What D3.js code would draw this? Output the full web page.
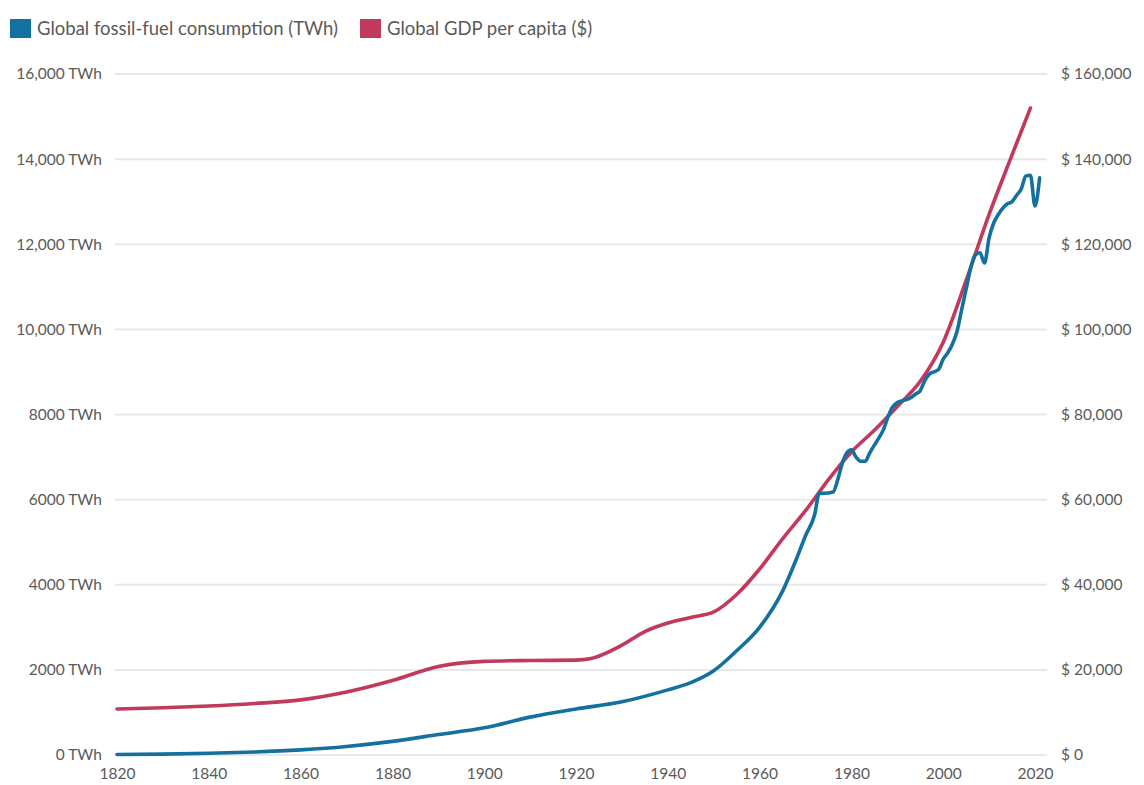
<!DOCTYPE html>
<html>
<head>
<meta charset="utf-8">
<script src="https://cdn.jsdelivr.net/npm/d3@7"></script>
<style>
  body { margin: 0; background: #fff; }
  text { font-family: Lato, "Open Sans", sans-serif; fill: #5a5a5a; }
  .grid line { stroke: #e8e8e8; stroke-width: 2; }
  .line { fill: none; stroke-width: 3.6; stroke-linejoin: round; stroke-linecap: round; }
</style>
</head>
<body>
<svg id="chart"></svg>
<script>
// fossil fuel consumption (TWh)
const fuelYears = [1820, 1830, 1840, 1850, 1860, 1870, 1880, 1890, 1900, 1910, 1920, 1930, 1940, 1945,
  1950, 1955, 1960, 1965, 1968, 1970, 1972, 1973, 1974, 1976, 1977, 1978, 1979, 1980, 1981, 1982,
  1983, 1984, 1985, 1986, 1987, 1988, 1989, 1990, 1991, 1992, 1993, 1994, 1995, 1996, 1997, 1998,
  1999, 2000, 2001, 2002, 2003, 2004, 2005, 2006, 2007, 2008, 2009, 2010, 2011, 2012, 2013, 2014,
  2015, 2016, 2017, 2018, 2019, 2020, 2021];
const fuelValues = [10, 20, 40, 70, 120, 200, 320, 480, 640, 890, 1080, 1250, 1530, 1700,
  1980, 2450, 3000, 3850, 4600, 5150, 5650, 6150, 6150, 6180, 6460, 6850, 7100, 7170, 7000, 6900,
  6900, 7100, 7280, 7450, 7650, 7950, 8180, 8280, 8320, 8350, 8400, 8480, 8560, 8800, 8950, 9000,
  9060, 9300, 9450, 9650, 9950, 10450, 10950, 11450, 11750, 11800, 11560, 12150, 12500, 12700, 12850, 12950,
  13000, 13150, 13300, 13600, 13620, 12900, 13560];

// GDP per capita ($)
const gdpYears = [1820, 1830, 1840, 1850, 1860, 1870, 1880, 1890, 1900, 1910, 1920, 1923, 1930, 1935,
  1940, 1945, 1950, 1955, 1960, 1965, 1970, 1975, 1980, 1985, 1990, 1995, 2000, 2005, 2010, 2015, 2019];
const gdpValues = [10800, 11100, 11500, 12100, 12950, 14800, 17500, 20800, 22000, 22200, 22300, 22600, 25800, 29000,
  31000, 32300, 33600, 37700, 43700, 50800, 57400, 64700, 71200, 76300, 81900, 87800, 97000, 111500, 127000, 141000, 152000];

const xTicks = [1820, 1840, 1860, 1880, 1900, 1920, 1940, 1960, 1980, 2000, 2020];
const leftTicks = [0, 2000, 4000, 6000, 8000, 10000, 12000, 14000, 16000];
const leftLabels = ['0 TWh', '2000 TWh', '4000 TWh', '6000 TWh', '8000 TWh', '10,000 TWh', '12,000 TWh', '14,000 TWh', '16,000 TWh'];
const rightTicks = [0, 20000, 40000, 60000, 80000, 100000, 120000, 140000, 160000];
const rightLabels = ['$ 0', '$ 20,000', '$ 40,000', '$ 60,000', '$ 80,000', '$ 100,000', '$ 120,000', '$ 140,000', '$ 160,000'];

const seriesNames = ['Global fossil-fuel consumption (TWh)', 'Global GDP per capita ($)'];
const seriesColors = ['#14709f', '#c13a5c'];

class dualLineChart {
  constructor(_config) {
    this.config = {
      parentElement: _config.parentElement,
      containerWidth: _config.containerWidth || 1144,
      containerHeight: _config.containerHeight || 785
    };
    this.initVis();
  }

  initVis() {
    let vis = this;

    vis.svg = d3.select(vis.config.parentElement)
      .attr('width', vis.config.containerWidth)
      .attr('height', vis.config.containerHeight);

    vis.xScale = d3.scaleLinear().domain([1820, 2020]).range([117, 1035]);
    vis.yLeft = d3.scaleLinear().domain([0, 16000]).range([755, 74]);
    vis.yRight = d3.scaleLinear().domain([0, 160000]).range([755, 74]);

    // gridlines
    vis.svg.append('g')
      .attr('class', 'grid')
      .selectAll('line')
      .data(leftTicks)
      .join('line')
      .attr('x1', 115)
      .attr('x2', 1047)
      .attr('y1', d => vis.yLeft(d))
      .attr('y2', d => vis.yLeft(d));

    // left axis
    vis.svg.append('g')
      .attr('transform', 'translate(102,0)')
      .call(d3.axisLeft(vis.yLeft).tickValues(leftTicks).tickSize(0).tickPadding(0)
        .tickFormat((d, i) => leftLabels[i]))
      .call(g => g.select('.domain').remove())
      .selectAll('text')
      .attr('font-size', '15.5px')
      .attr('fill', '#5a5a5a');

    // right axis
    vis.svg.append('g')
      .attr('transform', 'translate(1061,0)')
      .call(d3.axisRight(vis.yRight).tickValues(rightTicks).tickSize(0).tickPadding(0)
        .tickFormat((d, i) => rightLabels[i]))
      .call(g => g.select('.domain').remove())
      .selectAll('text')
      .attr('font-size', '15.5px')
      .attr('fill', '#5a5a5a');

    // bottom axis
    vis.svg.append('g')
      .attr('transform', 'translate(0,768)')
      .call(d3.axisBottom(vis.xScale).tickValues(xTicks).tickSize(0).tickPadding(0)
        .tickFormat(d3.format('d')))
      .call(g => g.select('.domain').remove())
      .selectAll('text')
      .attr('font-size', '15.5px')
      .attr('fill', '#5a5a5a');

    // legend
    let legend = vis.svg.append('g').attr('class', 'legend');
    let legendX = [10, 360];
    seriesNames.forEach((name, i) => {
      legend.append('rect')
        .attr('x', legendX[i])
        .attr('y', 19)
        .attr('width', 21)
        .attr('height', 19)
        .attr('fill', seriesColors[i]);
      legend.append('text')
        .attr('x', legendX[i] + 27)
        .attr('y', 35)
        .attr('font-size', '18.5px')
        .text(name);
    });
  }

  updateVis() {
    let vis = this;

    let fuelLine = d3.line()
      .x((d, i) => vis.xScale(fuelYears[i]))
      .y(d => vis.yLeft(d))
      .curve(d3.curveMonotoneX);

    let gdpLine = d3.line()
      .x((d, i) => vis.xScale(gdpYears[i]))
      .y(d => vis.yRight(d))
      .curve(d3.curveMonotoneX);

    vis.svg.append('path')
      .datum(gdpValues)
      .attr('class', 'line')
      .attr('stroke', seriesColors[1])
      .attr('d', gdpLine);

    vis.svg.append('path')
      .datum(fuelValues)
      .attr('class', 'line')
      .attr('stroke', seriesColors[0])
      .attr('d', fuelLine);
  }
}

let chart = new dualLineChart({ parentElement: '#chart' });
chart.updateVis();
</script>
</body>
</html>
